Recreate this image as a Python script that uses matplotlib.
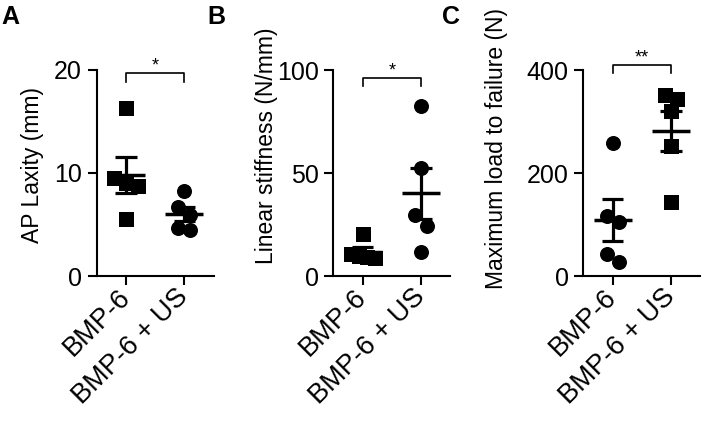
import numpy as np
import matplotlib.pyplot as plt

plt.rcParams['font.family'] = ['Liberation Sans', 'DejaVu Sans']

groups = ['BMP-6', 'BMP-6 + US']

# values (5 per group)
ap_laxity_bmp = [16.3, 9.5, 9.0, 8.7, 5.5]
ap_laxity_us = [8.3, 6.7, 5.9, 4.7, 4.5]
stiffness_bmp = [20.5, 10.5, 9.5, 9.0, 8.5]
stiffness_us = [82.4, 52.6, 29.5, 24.4, 11.5]
load_bmp = [258, 116, 104, 42, 28]
load_us = [352, 344, 320, 252, 144]

panels = [
    dict(letter='A', ylabel='AP Laxity (mm)', ymax=20, yticks=[0, 10, 20],
         data=(ap_laxity_bmp, ap_laxity_us), markers=('s', 'o'), star='*',
         left=96.7, letter_x=1, bracket=19.7, label_x=33, label_y=165),
    dict(letter='B', ylabel='Linear stiffness (N/mm)', ymax=100, yticks=[0, 50, 100],
         data=(stiffness_bmp, stiffness_us), markers=('s', 'o'), star='*',
         left=333.3, letter_x=207, bracket=96.2, label_x=267, label_y=146),
    dict(letter='C', ylabel='Maximum load to failure (N)', ymax=400, yticks=[0, 200, 400],
         data=(load_bmp, load_us), markers=('o', 's'), star='**',
         left=583.3, letter_x=442, bracket=410, label_x=496, label_y=148),
]

W, H = 705, 423
fig = plt.figure(figsize=(W / 100, H / 100), dpi=100)

ax_w, ax_bottom, ax_top = 117.0, 276.0, 70.0
ax_h = ax_bottom - ax_top


def swarm_offsets(vals, px_per_y, px_per_x, diam=14):
    """Spread points that overlap vertically into rows (like a scatter dot plot)"""
    vals = np.asarray(vals, dtype=float)
    order = np.argsort(vals)[::-1]
    rows = []
    for i in order:
        if rows and (vals[rows[-1][0]] - vals[i]) * px_per_y < diam:
            rows[-1].append(i)
        else:
            rows.append([i])
    offs = np.zeros(len(vals))
    for row in rows:
        n = len(row)
        spacing = 12 if n <= 3 else 8
        for k, i in enumerate(row):
            offs[i] = (k - (n - 1) / 2) * spacing / px_per_x
    return offs


for p in panels:
    ax = fig.add_axes([p['left'] / W, 1 - ax_bottom / H, ax_w / W, ax_h / H])
    ax.set_xlim(-0.5, 1.5)
    ax.set_ylim(0, p['ymax'])
    px_per_x = ax_w / 2.0
    px_per_y = ax_h / p['ymax']

    for i, (vals, m) in enumerate(zip(p['data'], p['markers'])):
        vals = np.asarray(vals, dtype=float)
        offs = swarm_offsets(vals, px_per_y, px_per_x)
        ax.plot(i + offs, vals, linestyle='none', marker=m, color='black',
                markersize=10.8, markeredgewidth=0, clip_on=False, zorder=3)
        mean = vals.mean()
        sem = vals.std(ddof=1) / np.sqrt(len(vals))
        ax.hlines(mean, i - 0.325, i + 0.325, color='black', linewidth=2.5, zorder=4)
        ax.vlines(i, mean - sem, mean + sem, color='black', linewidth=2.3, zorder=4)
        for yy in (mean - sem, mean + sem):
            ax.hlines(yy, i - 0.185, i + 0.185, color='black', linewidth=2.3, zorder=4)

    # significance bracket
    by = p['bracket']
    drop = 8.5 / px_per_y
    ax.plot([0, 0, 1, 1], [by - drop, by, by, by - drop], color='black',
            linewidth=1.2, clip_on=False)
    ax.annotate(p['star'], xy=(0.5, by), xytext=(0, -1), textcoords='offset points',
                ha='center', va='bottom', fontsize=13, annotation_clip=False)

    ax.spines['top'].set_visible(False)
    ax.spines['right'].set_visible(False)
    for s in ('left', 'bottom'):
        ax.spines[s].set_linewidth(1.5)
    ax.set_yticks(p['yticks'])
    ax.set_xticks([0, 1])
    ax.set_xticklabels(groups, rotation=45, ha='right', va='center',
                       rotation_mode='anchor')
    ax.tick_params(axis='both', length=6.5, width=1.5, labelsize=18, pad=4)
    ax.tick_params(axis='x', pad=6, labelsize=19.5)
    ax.set_ylabel(p['ylabel'], fontsize=16.5)
    ax.yaxis.set_label_coords((p['label_x'] - p['left']) / ax_w,
                              (ax_bottom - p['label_y']) / ax_h)
    ax.yaxis.label.set_va('center')

    fig.text(p['letter_x'] / W, 1 - 5 / H, p['letter'], fontsize=18,
             fontweight='bold', ha='left', va='top')

fig.savefig('out.png', dpi=100)
